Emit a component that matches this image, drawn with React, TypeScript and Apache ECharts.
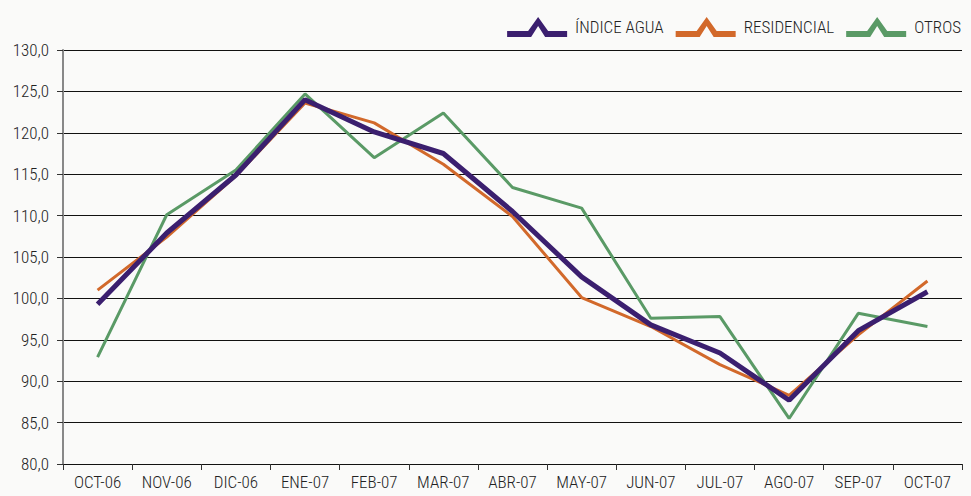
import React, { useEffect, useRef } from "react";
import * as echarts from "echarts";

const categories = ["OCT-06", "NOV-06", "DIC-06", "ENE-07", "FEB-07", "MAR-07", "ABR-07", "MAY-07", "JUN-07", "JUL-07", "AGO-07", "SEP-07", "OCT-07"];
const indiceAgua = [99.3, 107.9, 114.9, 124.0, 120.1, 117.5, 110.5, 102.6, 96.8, 93.4, 87.7, 96.1, 100.8];
const residencial = [101.0, 107.4, 114.8, 123.6, 121.2, 116.2, 109.9, 100.1, 96.6, 92.0, 88.3, 95.6, 102.1];
const otros = [92.9, 110.1, 115.5, 124.7, 117.0, 122.4, 113.4, 110.9, 97.6, 97.8, 85.5, 98.2, 96.6];
const seriesNames = ["ÍNDICE AGUA", "RESIDENCIAL", "OTROS"];
const yTicks = { min: 80, max: 130, interval: 5 };

const FONT = "'Roboto Condensed', sans-serif";
const ICON = "path://M0,14 L21,14 L31,0 L41,14 L60,14 L60,20 L38,20 L31,9 L24,20 L0,20 Z";

export default function App() {
  const ref = useRef<HTMLDivElement>(null);
  useEffect(() => {
    if (!ref.current) return;
    const chart = echarts.init(ref.current, null, { renderer: "svg" });
    const colors = ["#3b1f6f", "#d2692b", "#5a9a66"];
    const widths = [5, 3, 3];
    const data = [indiceAgua, residencial, otros];
    chart.setOption({
      animation: false,
      backgroundColor: "#fafaf9",
      textStyle: { fontFamily: FONT, fontWeight: 300 },
      legend: {
        right: 5,
        top: 12,
        itemWidth: 60,
        itemHeight: 20,
        itemGap: 12,
        textStyle: { fontFamily: FONT, fontWeight: 300, fontSize: 17, color: "#222", padding: [0, 0, 0, 3] },
        data: seriesNames.map((n, i) => ({ name: n, icon: ICON, itemStyle: { color: colors[i] } })),
      },
      grid: { left: 63, right: 9, top: 50, bottom: 32, containLabel: false },
      xAxis: {
        type: "category",
        data: categories,
        boundaryGap: true,
        axisLine: { show: true, lineStyle: { color: "#111", width: 1 } },
        axisTick: { show: true, length: 6, lineStyle: { color: "#333" } },
        axisLabel: { interval: 0, fontSize: 17, fontWeight: 300, color: "#222", margin: 9, fontFamily: FONT },
      },
      yAxis: {
        type: "value",
        min: yTicks.min,
        max: yTicks.max,
        interval: yTicks.interval,
        axisLine: { show: true, lineStyle: { color: "#888", width: 2 } },
        axisTick: { show: true, length: 6, lineStyle: { color: "#333" } },
        splitLine: { show: true, lineStyle: { color: "#111", width: 1 } },
        axisLabel: {
          fontSize: 17,
          fontWeight: 300,
          color: "#222",
          margin: 14,
          fontFamily: FONT,
          formatter: (v: number) => v.toFixed(1).replace(".", ","),
        },
      },
      series: seriesNames.map((n, i) => ({
        name: n,
        type: "line",
        data: data[i],
        symbol: "none",
        z: 3 - i,
        color: colors[i],
        lineStyle: { color: colors[i], width: widths[i] },
      })),
    });
    return () => chart.dispose();
  }, []);
  return <div ref={ref} style={{ position: "fixed", left: 0, top: 0, width: 971, height: 496 }} />;
}
